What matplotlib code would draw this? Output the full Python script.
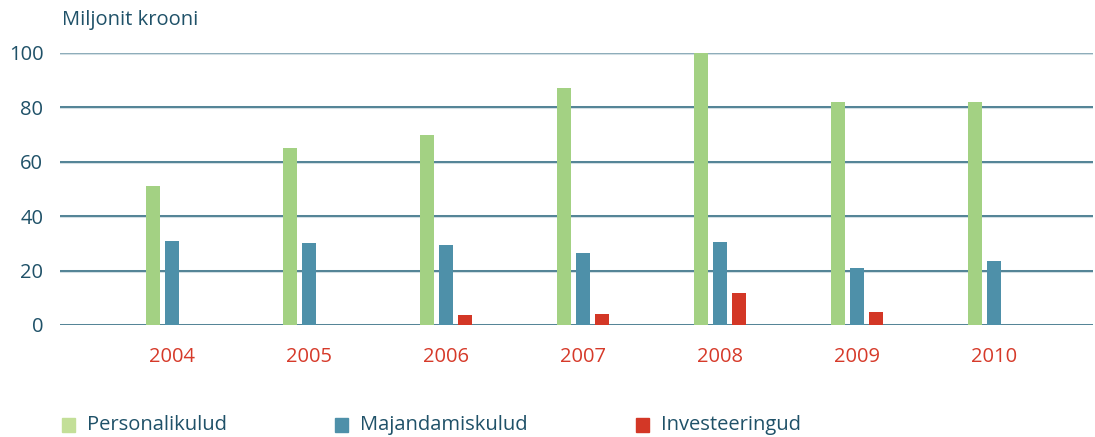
import numpy as np
import matplotlib
matplotlib.use('Agg')
import matplotlib.pyplot as plt
from matplotlib.patches import Rectangle

# andmed
years = ['2004', '2005', '2006', '2007', '2008', '2009', '2010']
personal = [51, 65, 70, 87, 100, 82, 82]
majandamine = [31, 30, 29.5, 26.5, 30.5, 21, 23.5]
invest = [0, 0, 3.7, 4, 11.8, 4.8, 0]
series_names = ['Personalikulud', 'Majandamiskulud', 'Investeeringud']
colors = ['#a3d183', '#4e90a9', '#d33726']

teal = '#1f5168'
red_txt = '#d63a2a'
plt.rcParams['font.family'] = ['Open Sans', 'DejaVu Sans']

fig = plt.figure(figsize=(10.95, 4.37), dpi=100)
ax = fig.add_axes([60/1095, 1 - 325/437, (1093 - 60)/1095, (325 - 53)/437])

x = np.arange(len(years))
w = 0.102
off = 0.139

# ruudustik
for v in [0, 20, 40, 60, 80, 100]:
    c = '#7a9fae' if v == 100 else '#2f6a80'
    ax.axhline(v, color='#d3dfe4', lw=2.2, zorder=0)
    ax.axhline(v, color=c, lw=1.1, zorder=1)

for vals, col, o in zip([personal, majandamine, invest], colors, [-off, 0, off]):
    ax.bar(x + o, vals, width=w, color=col, zorder=3, clip_on=False)

ax.set_xlim(-0.82, 6.72)
ax.set_ylim(0, 100)
ax.set_yticks([0, 20, 40, 60, 80, 100])
ax.set_xticks(x)
ax.set_xticklabels(years)
ax.tick_params(axis='x', length=0, pad=16, labelsize=14.5, labelcolor=red_txt)
ax.tick_params(axis='y', length=0, pad=12, labelsize=14.5, labelcolor=teal)
for s in ax.spines.values():
    s.set_visible(False)

fig.text(62/1095, 1 - 20/437, 'Miljonit krooni', color=teal, fontsize=14.5, va='center', ha='left')

# legend
leg_x = [62, 335, 636]
for lx, name, col in zip(leg_x, series_names, colors):
    fig.patches.append(Rectangle((lx/1095, 1 - 432/437), 13/1095, 14/437,
                                 transform=fig.transFigure, color=col if col != colors[0] else '#c3df98'))
    fig.text((lx + 25)/1095, 1 - 425/437, name, color=teal, fontsize=14.5, va='center', ha='left')

fig.savefig('out.png', dpi=100)
